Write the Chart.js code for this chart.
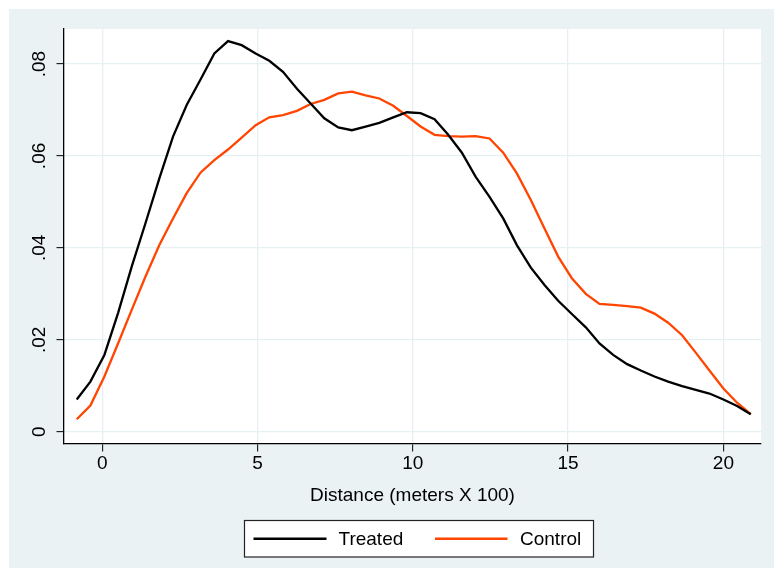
<!DOCTYPE html>
<html>
<head>
<meta charset="utf-8">
<script src="https://cdn.jsdelivr.net/npm/chart.js@4"></script>
<style>
  html, body { margin: 0; padding: 0; background: #ffffff; }
  #wrap { position: absolute; left: 9px; top: 9px; width: 765px; height: 559px; }
</style>
</head>
<body>
<div id="wrap"><canvas id="c" width="765" height="559"></canvas></div>
<script>
// ---- data ----
const distance = [-0.82, -0.38, 0.07, 0.51, 0.95, 1.39, 1.84, 2.28, 2.72, 3.17,
  3.61, 4.05, 4.49, 4.94, 5.38, 5.82, 6.27, 6.71, 7.15, 7.60,
  8.04, 8.48, 8.92, 9.37, 9.81, 10.25, 10.70, 11.14, 11.58, 12.02,
  12.47, 12.91, 13.35, 13.80, 14.24, 14.68, 15.12, 15.57, 16.01, 16.45,
  16.90, 17.34, 17.78, 18.22, 18.67, 19.11, 19.55, 20.00, 20.44, 20.88];
const treated = [0.0070, 0.0109, 0.0167, 0.0258, 0.0359, 0.0453, 0.0551, 0.0642, 0.0711, 0.0767,
  0.0823, 0.0850, 0.0841, 0.0823, 0.0807, 0.0783, 0.0746, 0.0714, 0.0682, 0.0662,
  0.0656, 0.0664, 0.0672, 0.0684, 0.0695, 0.0693, 0.0680, 0.0646, 0.0607, 0.0555,
  0.0511, 0.0464, 0.0406, 0.0357, 0.0319, 0.0285, 0.0256, 0.0227, 0.0192, 0.0167,
  0.0147, 0.0133, 0.0120, 0.0109, 0.0099, 0.0091, 0.0083, 0.0070, 0.0056, 0.0038];
const control = [0.0027, 0.0057, 0.0120, 0.0192, 0.0265, 0.0337, 0.0406, 0.0464, 0.0519, 0.0564,
  0.0591, 0.0614, 0.0640, 0.0667, 0.0684, 0.0689, 0.0698, 0.0713, 0.0722, 0.0736,
  0.0740, 0.0732, 0.0725, 0.0709, 0.0687, 0.0664, 0.0646, 0.0643, 0.0642, 0.0643,
  0.0638, 0.0607, 0.0562, 0.0504, 0.0442, 0.0381, 0.0334, 0.0300, 0.0278, 0.0276,
  0.0273, 0.0270, 0.0257, 0.0237, 0.0210, 0.0172, 0.0133, 0.0094, 0.0063, 0.0038];
const seriesNames = ["Treated", "Control"];
const xTicks = [0, 5, 10, 15, 20];
const yTicks = [0, 0.02, 0.04, 0.06, 0.08];
const yTickLabels = ["0", ".02", ".04", ".06", ".08"];
const xTitle = "Distance (meters X 100)";

// ---- styling ----
const FONT = "'Liberation Sans', Arial, Helvetica, sans-serif";
const FS = 19;
const BG = "#EAF2F3";
const GRID = "#E6EFF1";
const colors = ["#000000", "#FF4500"];

const toPts = (ys) => ys.map((y, i) => ({ x: distance[i], y: y }));

const bgPlugin = {
  id: 'bg',
  beforeDraw(chart) {
    const { ctx, chartArea: a } = chart;
    ctx.save();
    ctx.fillStyle = BG;
    ctx.fillRect(0, 0, chart.width, chart.height);
    ctx.fillStyle = "#ffffff";
    ctx.fillRect(a.left, a.top, a.right - a.left, a.bottom - a.top);
    ctx.restore();
  }
};

const yLabelPlugin = {
  id: 'ylabels',
  afterDraw(chart) {
    const { ctx } = chart;
    const ys = chart.scales.y;
    ctx.save();
    ctx.fillStyle = "#000";
    ctx.font = FS + "px " + FONT;
    ctx.textAlign = "center";
    ctx.textBaseline = "middle";
    yTicks.forEach((v, i) => {
      const py = ys.getPixelForValue(v);
      ctx.save();
      ctx.translate(31, py);
      ctx.rotate(-Math.PI / 2);
      ctx.fillText(yTickLabels[i], 0, 0);
      ctx.restore();
    });
    ctx.restore();
  }
};

const legendPlugin = {
  id: 'boxlegend',
  afterDraw(chart) {
    const { ctx } = chart;
    const left = 235.5, top = 511.5, w = 349, h = 36.5;
    ctx.save();
    ctx.fillStyle = "#ffffff";
    ctx.fillRect(left, top, w, h);
    ctx.strokeStyle = "#222";
    ctx.lineWidth = 1.2;
    ctx.strokeRect(left, top, w, h);
    const cy = top + h / 2;
    const items = [
      { x0: 244.5, x1: 317.5, tx: 329.5 },
      { x0: 426, x1: 498.5, tx: 511 }
    ];
    chart.data.datasets.forEach((ds, i) => {
      const it = items[i];
      ctx.strokeStyle = ds.borderColor;
      ctx.lineWidth = 2.4;
      ctx.beginPath();
      ctx.moveTo(it.x0, cy);
      ctx.lineTo(it.x1, cy);
      ctx.stroke();
      ctx.fillStyle = "#000";
      ctx.font = FS + "px " + FONT;
      ctx.textAlign = "left";
      ctx.textBaseline = "middle";
      ctx.fillText(ds.label, it.tx, cy + 1);
    });
    ctx.restore();
  }
};

new Chart(document.getElementById('c'), {
  type: 'line',
  data: {
    datasets: [
      { label: seriesNames[0], data: toPts(treated), borderColor: colors[0], borderWidth: 2.3, pointRadius: 0, tension: 0, fill: false },
      { label: seriesNames[1], data: toPts(control), borderColor: colors[1], borderWidth: 2.3, pointRadius: 0, tension: 0, fill: false }
    ]
  },
  options: {
    responsive: false,
    animation: false,
    events: [],
    layout: { padding: { left: 0, top: 20, right: 13, bottom: 60.6 } },
    plugins: { legend: { display: false }, tooltip: { enabled: false } },
    scales: {
      x: {
        type: 'linear',
        min: -1.23,
        max: 21.21,
        afterBuildTicks(s) { s.ticks = xTicks.map(v => ({ value: v })); },
        afterFit(s) { s.height = 63.4; },
        grid: { color: GRID, lineWidth: 1.3, drawTicks: true, tickLength: 7.5, tickColor: "#000", tickWidth: 1 },
        border: { display: true, color: "#000", width: 1.3 },
        ticks: { color: "#000", font: { family: FONT, size: FS }, padding: 1, maxRotation: 0, autoSkip: false },
        title: { display: true, text: xTitle, color: "#000", font: { family: FONT, size: FS }, padding: { top: 0, bottom: 0 } }
      },
      y: {
        type: 'linear',
        min: -0.00268,
        max: 0.08762,
        afterBuildTicks(s) { s.ticks = yTicks.map(v => ({ value: v })); },
        afterFit(s) { s.width = 55; },
        grid: { color: GRID, lineWidth: 1.3, drawTicks: true, tickLength: 7.5, tickColor: "#000", tickWidth: 1 },
        border: { display: true, color: "#000", width: 1.3 },
        ticks: { display: false }
      }
    }
  },
  plugins: [bgPlugin, yLabelPlugin, legendPlugin]
});
</script>
</body>
</html>
